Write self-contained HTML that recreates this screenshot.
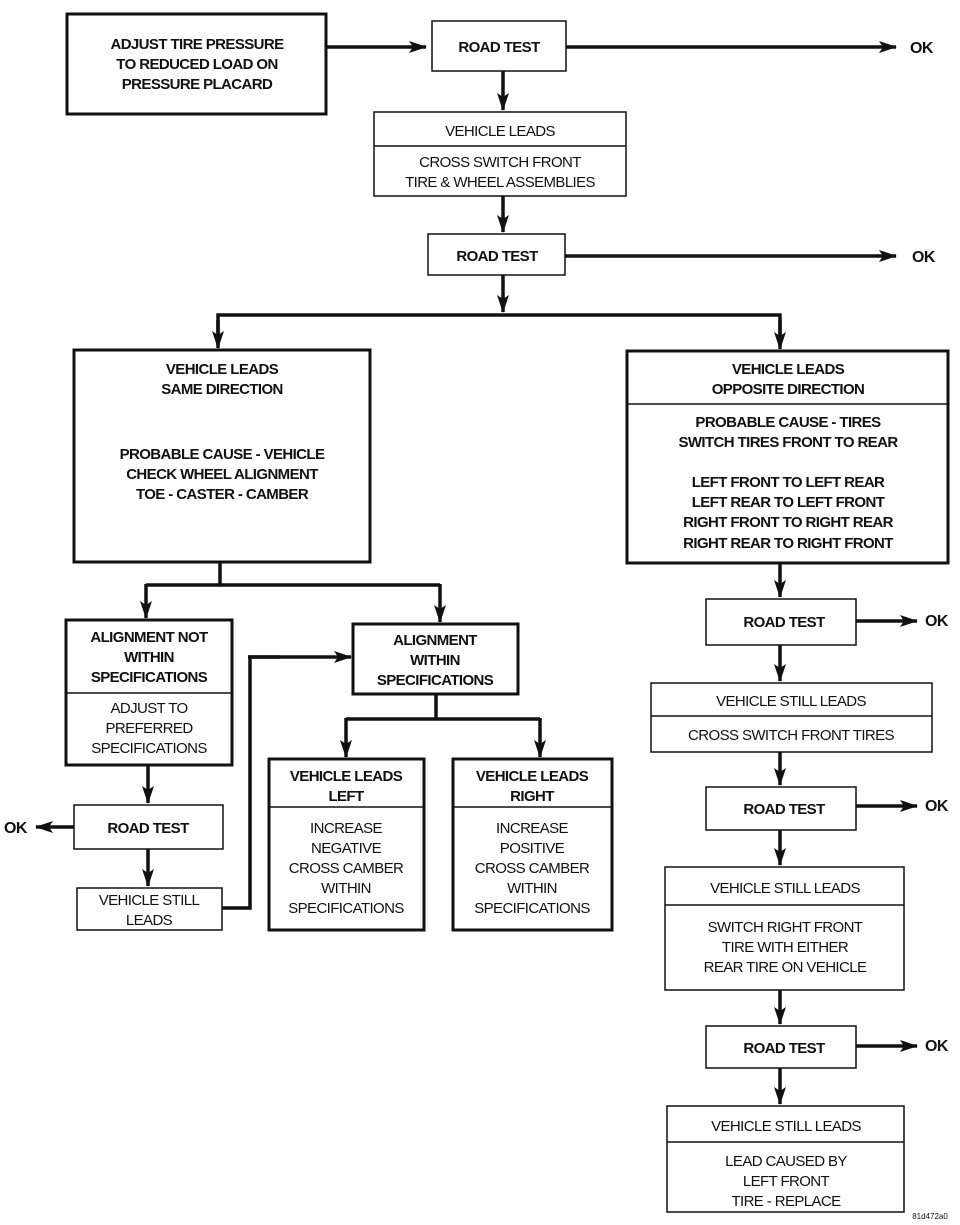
<!DOCTYPE html>
<html><head><meta charset="utf-8"><style>
html,body{margin:0;padding:0;background:#fff;}
svg{display:block;}
text{font-family:"Liberation Sans",Arial,sans-serif;font-size:15px;text-anchor:middle;fill:#111;letter-spacing:-0.6px;}
.b{font-weight:bold;}
.ok{font-weight:bold;font-size:16px;text-anchor:start;}
</style></head><body>
<svg width="960" height="1225" viewBox="0 0 960 1225" xmlns="http://www.w3.org/2000/svg">
<defs>
<marker id="a" markerWidth="10" markerHeight="10" refX="9" refY="5" orient="auto" markerUnits="userSpaceOnUse" viewBox="0 0 10 10">
<path d="M0,0 L10,5 L0,10 z" fill="#111"/></marker>
<marker id="ah" markerWidth="18" markerHeight="12" refX="17" refY="6" orient="auto" markerUnits="userSpaceOnUse" viewBox="0 0 18 12">
<path d="M0,0 L18,6 L0,12 L4,6 z" fill="#111"/></marker>
</defs>
<g fill="none" stroke="#111">
<!-- boxes -->
<rect x="67" y="14" width="259" height="100" stroke-width="3"/>
<rect x="432" y="21" width="134" height="50" stroke-width="1.5"/>
<rect x="374" y="112" width="252" height="84" stroke-width="1.5"/>
<line x1="374" y1="146" x2="626" y2="146" stroke-width="1.5"/>
<rect x="428" y="234" width="137" height="41" stroke-width="1.5"/>
<rect x="74" y="350" width="296" height="212" stroke-width="3"/>
<rect x="627" y="351" width="321" height="212" stroke-width="3"/>
<line x1="627" y1="404" x2="948" y2="404" stroke-width="1.5"/>
<rect x="66" y="620" width="166" height="145" stroke-width="3"/>
<line x1="66" y1="693" x2="232" y2="693" stroke-width="1.5"/>
<rect x="74" y="805" width="149" height="44" stroke-width="1.5"/>
<rect x="77" y="888" width="145" height="42" stroke-width="1.5"/>
<rect x="353" y="624" width="165" height="70" stroke-width="3"/>
<rect x="269" y="759" width="155" height="171" stroke-width="3"/>
<line x1="269" y1="807" x2="424" y2="807" stroke-width="1.5"/>
<rect x="453" y="759" width="159" height="171" stroke-width="3"/>
<line x1="453" y1="807" x2="612" y2="807" stroke-width="1.5"/>
<rect x="706" y="599" width="150" height="46" stroke-width="1.5"/>
<rect x="651" y="683" width="281" height="69" stroke-width="1.5"/>
<line x1="651" y1="716" x2="932" y2="716" stroke-width="1.5"/>
<rect x="706" y="787" width="150" height="43" stroke-width="1.5"/>
<rect x="665" y="867" width="239" height="123" stroke-width="1.5"/>
<line x1="665" y1="905" x2="904" y2="905" stroke-width="1.5"/>
<rect x="706" y="1026" width="150" height="42" stroke-width="1.5"/>
<rect x="667" y="1106" width="237" height="106" stroke-width="1.5"/>
<line x1="667" y1="1142" x2="904" y2="1142" stroke-width="1.5"/>
<!-- connectors -->
<g stroke-width="3.5">
<line x1="326" y1="47" x2="426" y2="47" marker-end="url(#ah)"/>
<line x1="566" y1="47" x2="896" y2="47" marker-end="url(#ah)"/>
<line x1="503" y1="71" x2="503" y2="110" marker-end="url(#ah)"/>
<line x1="503" y1="196" x2="503" y2="232" marker-end="url(#ah)"/>
<line x1="565" y1="256" x2="896" y2="256" marker-end="url(#ah)"/>
<line x1="503" y1="275" x2="503" y2="312" marker-end="url(#ah)"/>
<polyline points="218,345 218,315 780,315 780,345"/>
<line x1="218" y1="320" x2="218" y2="348" marker-end="url(#ah)"/>
<line x1="780" y1="320" x2="780" y2="349" marker-end="url(#ah)"/>
<polyline points="220,562 220,585 146,585"/>
<polyline points="220,585 440,585"/>
<line x1="146" y1="584" x2="146" y2="618" marker-end="url(#ah)"/>
<line x1="440" y1="584" x2="440" y2="622" marker-end="url(#ah)"/>
<line x1="148" y1="765" x2="148" y2="803" marker-end="url(#ah)"/>
<line x1="74" y1="827" x2="36" y2="827" marker-end="url(#ah)"/>
<line x1="148" y1="849" x2="148" y2="886" marker-end="url(#ah)"/>
<polyline points="222,908 250,908 250,657 280,657"/>
<line x1="248" y1="657" x2="351" y2="657" marker-end="url(#ah)"/>
<line x1="436" y1="694" x2="436" y2="719"/>
<polyline points="346,719 540,719"/>
<line x1="346" y1="718" x2="346" y2="757" marker-end="url(#ah)"/>
<line x1="540" y1="718" x2="540" y2="757" marker-end="url(#ah)"/>
<line x1="780" y1="563" x2="780" y2="597" marker-end="url(#ah)"/>
<line x1="856" y1="621" x2="917" y2="621" marker-end="url(#ah)"/>
<line x1="780" y1="645" x2="780" y2="681" marker-end="url(#ah)"/>
<line x1="780" y1="752" x2="780" y2="785" marker-end="url(#ah)"/>
<line x1="856" y1="806" x2="917" y2="806" marker-end="url(#ah)"/>
<line x1="780" y1="830" x2="780" y2="865" marker-end="url(#ah)"/>
<line x1="780" y1="990" x2="780" y2="1024" marker-end="url(#ah)"/>
<line x1="856" y1="1046" x2="917" y2="1046" marker-end="url(#ah)"/>
<line x1="780" y1="1068" x2="780" y2="1104" marker-end="url(#ah)"/>
</g>
</g>
<!-- text -->
<g class="b">
<text class="b" x="197" y="49">ADJUST TIRE PRESSURE</text>
<text class="b" x="197" y="69">TO REDUCED LOAD ON</text>
<text class="b" x="197" y="89">PRESSURE PLACARD</text>
<text class="b" x="499" y="52">ROAD TEST</text>
<text class="b" x="497" y="261">ROAD TEST</text>
<text class="b" x="222" y="374">VEHICLE LEADS</text>
<text class="b" x="222" y="394">SAME DIRECTION</text>
<text class="b" x="222" y="459">PROBABLE CAUSE - VEHICLE</text>
<text class="b" x="222" y="479">CHECK WHEEL ALIGNMENT</text>
<text class="b" x="222" y="499">TOE - CASTER - CAMBER</text>
<text class="b" x="788" y="374">VEHICLE LEADS</text>
<text class="b" x="788" y="394">OPPOSITE DIRECTION</text>
<text class="b" x="788" y="427">PROBABLE CAUSE - TIRES</text>
<text class="b" x="788" y="447">SWITCH TIRES FRONT TO REAR</text>
<text class="b" x="788" y="487">LEFT FRONT TO LEFT REAR</text>
<text class="b" x="788" y="507">LEFT REAR TO LEFT FRONT</text>
<text class="b" x="788" y="527">RIGHT FRONT TO RIGHT REAR</text>
<text class="b" x="788" y="548">RIGHT REAR TO RIGHT FRONT</text>
<text class="b" x="149" y="642">ALIGNMENT NOT</text>
<text class="b" x="149" y="662">WITHIN</text>
<text class="b" x="149" y="682">SPECIFICATIONS</text>
<text class="b" x="148" y="833">ROAD TEST</text>
<text class="b" x="435" y="645">ALIGNMENT</text>
<text class="b" x="435" y="665">WITHIN</text>
<text class="b" x="435" y="685">SPECIFICATIONS</text>
<text class="b" x="346" y="781">VEHICLE LEADS</text>
<text class="b" x="346" y="801">LEFT</text>
<text class="b" x="532" y="781">VEHICLE LEADS</text>
<text class="b" x="532" y="801">RIGHT</text>
<text class="b" x="784" y="627">ROAD TEST</text>
<text class="b" x="784" y="814">ROAD TEST</text>
<text class="b" x="784" y="1053">ROAD TEST</text>
</g>
<text x="500" y="136">VEHICLE LEADS</text>
<text x="500" y="167">CROSS SWITCH FRONT</text>
<text x="500" y="187">TIRE &amp; WHEEL ASSEMBLIES</text>
<text x="149" y="713">ADJUST TO</text>
<text x="149" y="733">PREFERRED</text>
<text x="149" y="753">SPECIFICATIONS</text>
<text x="149" y="905">VEHICLE STILL</text>
<text x="149" y="925">LEADS</text>
<text x="346" y="833">INCREASE</text>
<text x="346" y="853">NEGATIVE</text>
<text x="346" y="873">CROSS CAMBER</text>
<text x="346" y="893">WITHIN</text>
<text x="346" y="913">SPECIFICATIONS</text>
<text x="532" y="833">INCREASE</text>
<text x="532" y="853">POSITIVE</text>
<text x="532" y="873">CROSS CAMBER</text>
<text x="532" y="893">WITHIN</text>
<text x="532" y="913">SPECIFICATIONS</text>
<text x="791" y="706">VEHICLE STILL LEADS</text>
<text x="791" y="740">CROSS SWITCH FRONT TIRES</text>
<text x="785" y="893">VEHICLE STILL LEADS</text>
<text x="785" y="932">SWITCH RIGHT FRONT</text>
<text x="785" y="952">TIRE WITH EITHER</text>
<text x="785" y="972">REAR TIRE ON VEHICLE</text>
<text x="786" y="1131">VEHICLE STILL LEADS</text>
<text x="786" y="1166">LEAD CAUSED BY</text>
<text x="786" y="1186">LEFT FRONT</text>
<text x="786" y="1206">TIRE - REPLACE</text>
<text class="ok" x="910" y="53">OK</text>
<text class="ok" x="912" y="262">OK</text>
<text class="ok" x="925" y="626">OK</text>
<text class="ok" x="925" y="811">OK</text>
<text class="ok" x="925" y="1051">OK</text>
<text class="ok" x="4" y="833">OK</text>
<text x="930" y="1219" style="font-size:8px;letter-spacing:0">81d472a0</text>
</svg>
</body></html>
